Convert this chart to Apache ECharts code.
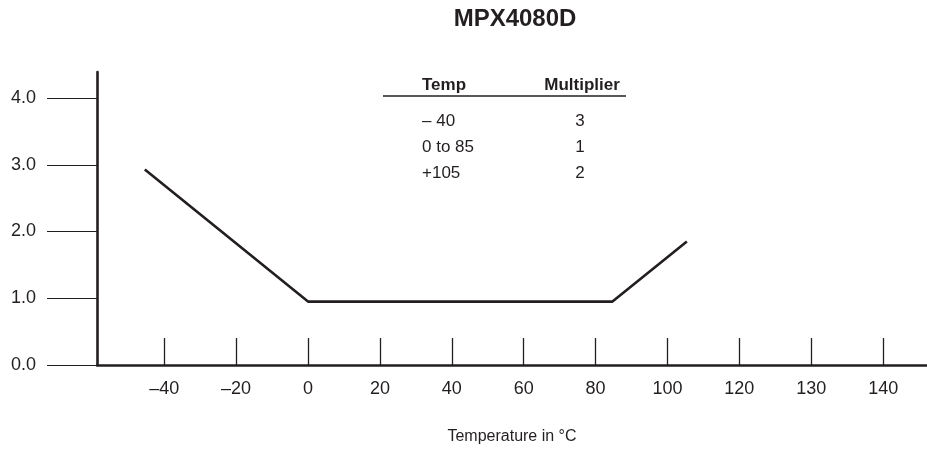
<!DOCTYPE html>
<html>
<head>
<meta charset="utf-8">
<script src="https://cdn.jsdelivr.net/npm/echarts@6/dist/echarts.min.js"></script>
<style>html,body{margin:0;padding:0;background:#fff}#c{width:927px;height:458px}</style>
</head>
<body>
<div id="c"></div>
<script>
var chartTitle = 'MPX4080D';
var xAxisTitle = 'Temperature in °C';
var xTickValues = [-40, -20, 0, 20, 40, 60, 80, 100, 120, 140, 160];
var xTickLabels = ['–40', '–20', '0', '20', '40', '60', '80', '100', '120', '130', '140'];
var yTickValues = [0, 1, 2, 3, 4];
var yTickLabels = ['0.0', '1.0', '2.0', '3.0', '4.0'];
var tempC = [-45.4, 0, 84.7, 105.4];
var multiplier = [2.93, 0.95, 0.95, 1.85];
var tableHeaders = ['Temp', 'Multiplier'];
var tableTemps = ['– 40', '0 to 85', '+105'];
var tableMultipliers = ['3', '1', '2'];

var font = '"Liberation Sans", Arial, Helvetica, sans-serif';
var ink = '#231f20';

var chart = echarts.init(document.getElementById('c'));

var graphics = [];
graphics.push({type: 'text', left: 422, top: 77, style: {text: tableHeaders[0], font: 'bold 17px ' + font, fill: ink}});
graphics.push({type: 'text', x: 582, top: 77, style: {text: tableHeaders[1], font: 'bold 17px ' + font, fill: ink, textAlign: 'center'}});
graphics.push({type: 'line', shape: {x1: 383, y1: 96, x2: 626, y2: 96}, style: {stroke: ink, lineWidth: 1.3}});
for (var i = 0; i < tableTemps.length; i++) {
  graphics.push({type: 'text', left: 422, top: 113 + i * 25.7, style: {text: tableTemps[i], font: '17px ' + font, fill: ink}});
  graphics.push({type: 'text', x: 580, top: 113 + i * 25.7, style: {text: tableMultipliers[i], font: '17px ' + font, fill: ink, textAlign: 'center'}});
}

chart.setOption({
  animation: false,
  backgroundColor: '#fff',
  title: {
    text: chartTitle, left: 510, top: 2, textAlign: 'center',
    textStyle: {fontFamily: font, fontWeight: 'bold', fontSize: 24, color: ink}
  },
  grid: {left: 97, right: 0, top: 72, bottom: 93},
  xAxis: {
    type: 'value', min: -58.7, max: 172.2,
    name: xAxisTitle, nameLocation: 'middle', nameGap: 64,
    nameTextStyle: {fontFamily: font, fontSize: 16, color: ink},
    splitLine: {show: false},
    axisLine: {show: true, onZero: false, lineStyle: {color: ink, width: 2.6}},
    axisTick: {show: true, inside: true, length: 27, customValues: xTickValues, lineStyle: {color: ink, width: 1.3}},
    axisLabel: {
      customValues: xTickValues, margin: 15, fontFamily: font, fontSize: 18, color: ink,
      formatter: function (v) { var k = xTickValues.indexOf(v); return k >= 0 ? xTickLabels[k] : ''; }
    }
  },
  yAxis: {
    type: 'value', min: 0, max: 4.39,
    splitLine: {show: false},
    axisLine: {show: true, onZero: false, lineStyle: {color: ink, width: 2.6}},
    axisTick: {show: true, inside: false, length: 50, customValues: yTickValues, lineStyle: {color: ink, width: 1.2}},
    axisLabel: {
      customValues: yTickValues, margin: 61, fontFamily: font, fontSize: 18, color: ink,
      formatter: function (v) { var k = yTickValues.indexOf(v); return k >= 0 ? yTickLabels[k] : ''; }
    }
  },
  series: [{
    type: 'line',
    data: tempC.map(function (t, i) { return [t, multiplier[i]]; }),
    showSymbol: false,
    lineStyle: {color: ink, width: 2.6},
    silent: true
  }],
  graphic: graphics
});
</script>
</body>
</html>
